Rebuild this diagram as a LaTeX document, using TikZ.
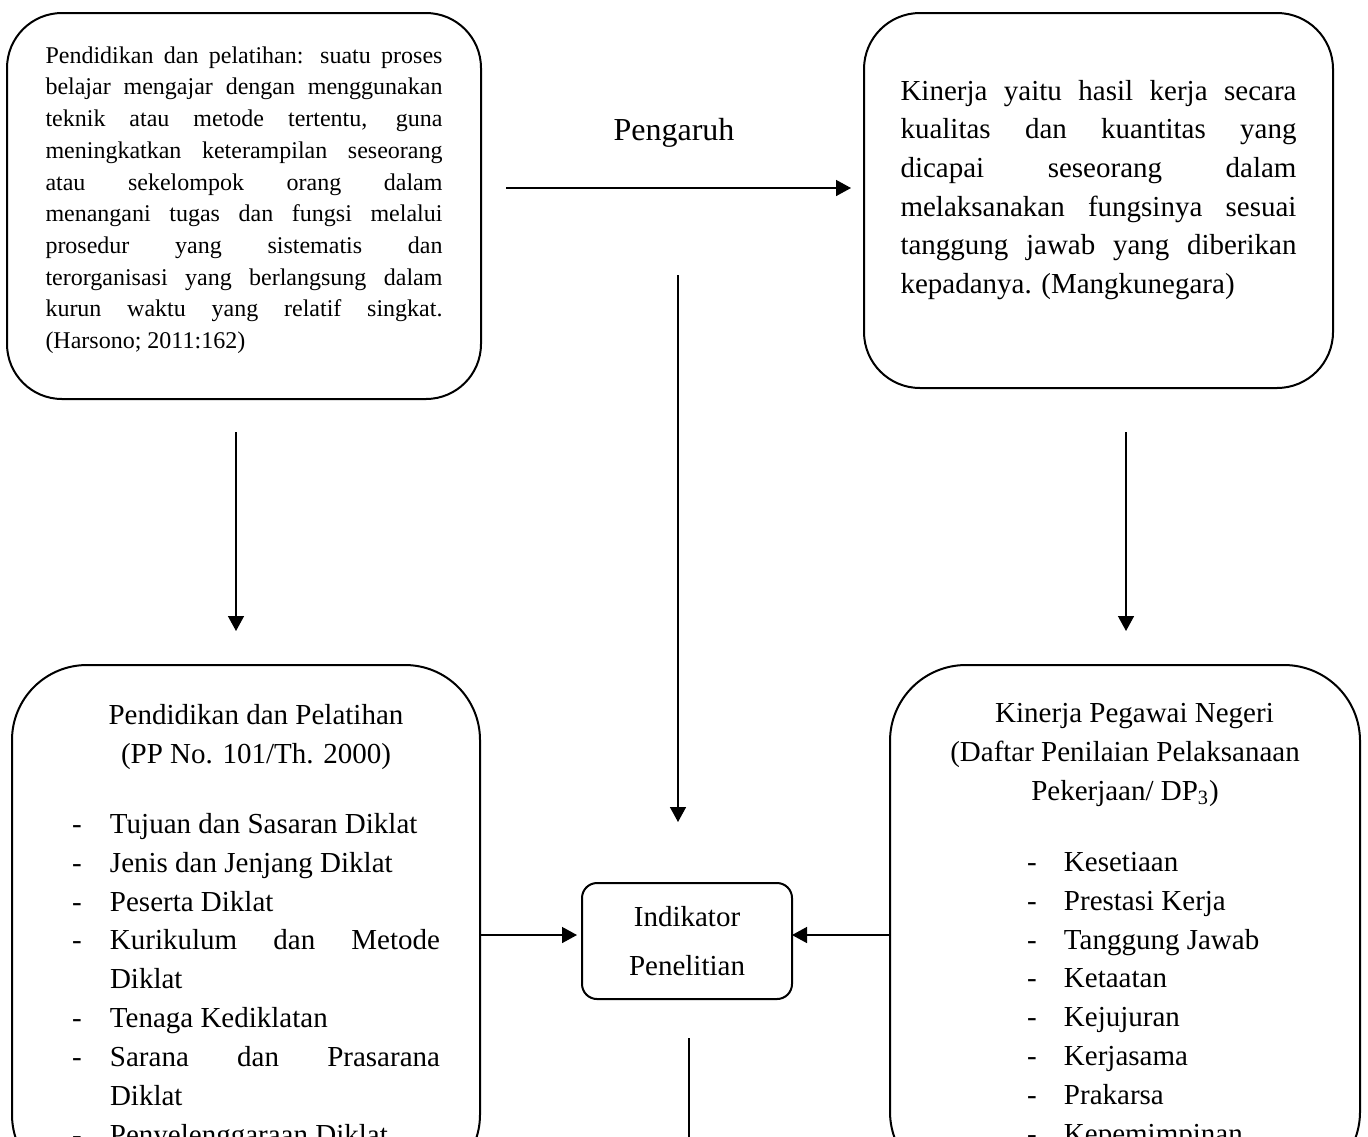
\documentclass[tikz,border=0pt]{standalone}
\usepackage{fontspec}
\setmainfont{Liberation Serif}
\usepackage{tikz}
\usetikzlibrary{arrows.meta}
\newcommand{\butir}[3]{\par\hangindent=#2\hangafter=1\noindent\rlap{\hspace*{#1}-}\hspace*{#2}#3}

\begin{document}
\begin{tikzpicture}[
        x=0.5pt, y=-0.5pt,
        >={Triangle[length=7.5pt, width=8pt]},
        kotak/.style={draw, line width=1pt, inner sep=0pt, outer sep=0pt, anchor=north west},
        kecil/.style={draw, line width=1pt, outer sep=0pt, rounded corners=7.5pt, minimum width=105pt, minimum height=58pt, align=center, font=\fontsize{14.5pt}{24.5pt}\selectfont},
        judul/.style={anchor=base, font=\fontsize{16pt}{19pt}\selectfont},
        panah/.style={->, line width=0.75pt},
        garis/.style={line width=0.75pt}
    ]
        \useasboundingbox (0,0) rectangle (1368,1136);
        \clip (0,0) rectangle (1368,1136);

        \node[kotak, rounded corners=27.5pt, inner xsep=19.25pt, inner ysep=16.8pt] (defDiklat) at (7,13) {\begin{minipage}[c][159.4pt][t]{198.5pt}\fontsize{12pt}{15.85pt}\selectfont\sloppy Pendidikan dan pelatihan: suatu proses \linebreak belajar mengajar dengan menggunakan \linebreak teknik atau metode tertentu, guna \linebreak meningkatkan keterampilan seseorang \linebreak atau sekelompok orang dalam \linebreak menangani tugas dan fungsi melalui \linebreak prosedur yang sistematis dan \linebreak terorganisasi yang berlangsung dalam \linebreak kurun waktu yang relatif singkat. \linebreak (Harsono; 2011:162)\end{minipage}};
        \node[kotak, rounded corners=28pt, inner xsep=18.25pt, inner ysep=33.6pt] (defKinerja) at (864,13) {\begin{minipage}[c][120.3pt][t]{198pt}\fontsize{14.5pt}{19.3pt}\selectfont\sloppy Kinerja yaitu hasil kerja secara \linebreak kualitas dan kuantitas yang \linebreak dicapai seseorang dalam \linebreak melaksanakan fungsinya sesuai \linebreak tanggung jawab yang diberikan \linebreak kepadanya. (Mangkunegara)\end{minipage}};
        \node[judul] (pengaruh) at (674,140) {Pengaruh};

        \node[kotak, rounded corners=37.5pt, inner xsep=20pt, inner ysep=19.6pt] (kompDiklat) at (12,665) {\hspace*{10pt}\begin{minipage}[t]{184pt}\fontsize{14.5pt}{19.43pt}\selectfont\sloppy
            {\centering Pendidikan dan Pelatihan\\(PP No. 101/Th. 2000)\par}
            \vspace{15.65pt}
            \butir{0pt}{19pt}{Tujuan dan Sasaran Diklat}
            \butir{0pt}{19pt}{Jenis dan Jenjang Diklat}
            \butir{0pt}{19pt}{Peserta Diklat}
            \butir{0pt}{19pt}{Kurikulum dan Metode \linebreak Diklat}
            \butir{0pt}{19pt}{Tenaga Kediklatan}
            \butir{0pt}{19pt}{Sarana dan Prasarana \linebreak Diklat}
            \butir{0pt}{19pt}{Penyelenggaraan Diklat}
        \end{minipage}};
        \node[kotak, rounded corners=38pt, inner xsep=20pt, inner ysep=19.1pt] (kompKinerja) at (890,665) {\begin{minipage}[t]{195pt}\fontsize{14.5pt}{19.43pt}\selectfont\sloppy
            {\centering\hspace*{9.5pt}Kinerja Pegawai Negeri\\(Daftar Penilaian Pelaksanaan\\Pekerjaan/ DP\textsubscript{3})\par}
            \vspace{16.2pt}
            \butir{48.5pt}{67pt}{Kesetiaan}
            \butir{48.5pt}{67pt}{Prestasi Kerja}
            \butir{48.5pt}{67pt}{Tanggung Jawab}
            \butir{48.5pt}{67pt}{Ketaatan}
            \butir{48.5pt}{67pt}{Kejujuran}
            \butir{48.5pt}{67pt}{Kerjasama}
            \butir{48.5pt}{67pt}{Prakarsa}
            \butir{48.5pt}{67pt}{Kepemimpinan}
        \end{minipage}};

        \node[kecil] (indikator) at (687,941) {Indikator\\Penelitian};

        \coordinate (pgawal) at (506,188);
        \coordinate (kiri) at (236,0);
        \coordinate (kanan) at (1126,0);
        \coordinate (tengah) at (678,275);
        \coordinate (masuk) at (0,935);
        \coordinate (bawah) at (689,1180);

        \draw[panah, shorten >=6.5pt] (pgawal) -- (pgawal -| defKinerja.west);
        \draw[panah, shorten <=16.5pt, shorten >=17pt] (kiri |- defDiklat.south) -- (kiri |- kompDiklat.north);
        \draw[panah, shorten <=22pt, shorten >=17pt] (kanan |- defKinerja.south) -- (kanan |- kompKinerja.north);
        \draw[panah, shorten >=30.5pt] (tengah) -- (tengah |- indikator.north);
        \draw[panah, shorten >=2.5pt] (masuk -| kompDiklat.east) -- (masuk -| indikator.west);
        \draw[panah] (masuk -| kompKinerja.west) -- (masuk -| indikator.east);
        \draw[garis, shorten <=19.5pt] (bawah |- indikator.south) -- (bawah);
\end{tikzpicture}
\end{document}
